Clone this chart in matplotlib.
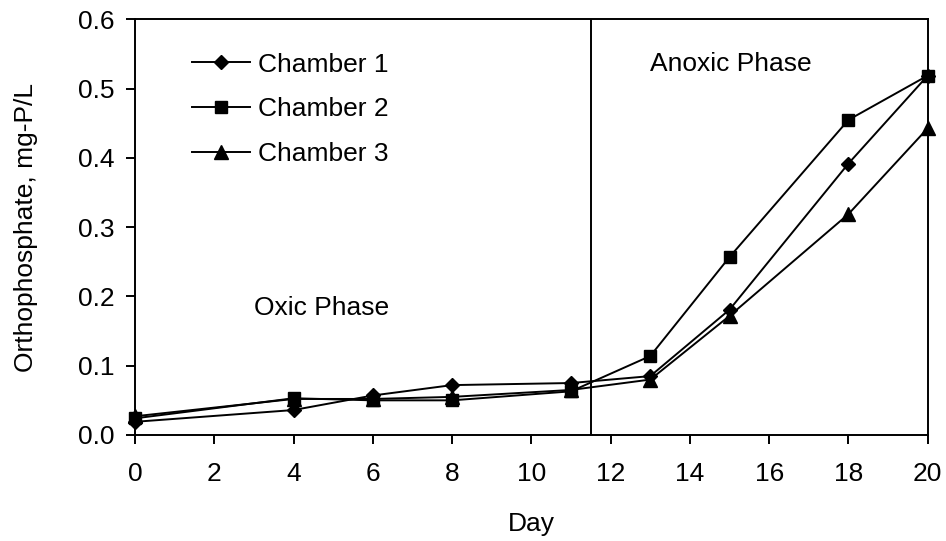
import matplotlib
matplotlib.use("Agg")
import matplotlib.pyplot as plt

plt.rcParams["font.family"] = ["Liberation Sans", "DejaVu Sans"]

days = [0, 4, 6, 8, 11, 13, 15, 18, 20]
chamber1 = [0.019, 0.036, 0.057, 0.072, 0.075, 0.085, 0.181, 0.392, 0.519]
chamber2 = [0.024, 0.053, 0.050, 0.050, 0.063, 0.114, 0.257, 0.455, 0.519]
chamber3 = [0.027, 0.052, 0.052, 0.055, 0.065, 0.080, 0.172, 0.319, 0.443]
phase_switch = 11.5
yticks = [0.0, 0.1, 0.2, 0.3, 0.4, 0.5, 0.6]

FS = 19

fig = plt.figure(figsize=(9.46, 5.41), dpi=100)
ax = fig.add_axes([0.1427, 0.196, 0.838, 0.768])

ax.plot(days, chamber1, color="black", lw=1.4, marker="D", ms=7.5,
        label="Chamber 1", clip_on=False, zorder=3)
ax.plot(days, chamber2, color="black", lw=1.4, marker="s", ms=8.5,
        label="Chamber 2", clip_on=False, zorder=3)
ax.plot(days, chamber3, color="black", lw=1.4, marker="^", ms=10,
        label="Chamber 3", clip_on=False, zorder=3)
ax.axvline(phase_switch, color="black", lw=1.4)

# phase annotations
ax.text(3.0, 0.183, "Oxic Phase", fontsize=FS, va="center")
ax.text(13.0, 0.535, "Anoxic Phase", fontsize=FS, va="center")

ax.set_xlim(0, 20)
ax.set_ylim(0, 0.6)
ax.set_xticks(range(0, 21, 2))
ax.set_yticks(yticks)
ax.set_yticklabels([f"{v:.1f}" for v in yticks])
ax.tick_params(direction="out", length=6.2, width=1.4, labelsize=FS)
ax.tick_params(axis="x", pad=13)
ax.tick_params(axis="y", pad=8.6)
ax.set_xlabel("Day", fontsize=FS)
ax.set_ylabel("Orthophosphate, mg-P/L", fontsize=FS)
ax.xaxis.set_label_coords(0.5, -0.185)
ax.yaxis.set_label_coords(-0.122, 0.5)
for s in ax.spines.values():
    s.set_linewidth(1.4)

ax.legend(loc="upper left", bbox_to_anchor=(0.0715, 0.92), frameon=False,
          fontsize=FS, borderaxespad=0, borderpad=0,
          handlelength=2.2, handletextpad=0.3, labelspacing=0.78)

fig.savefig("out.png", dpi=100)
